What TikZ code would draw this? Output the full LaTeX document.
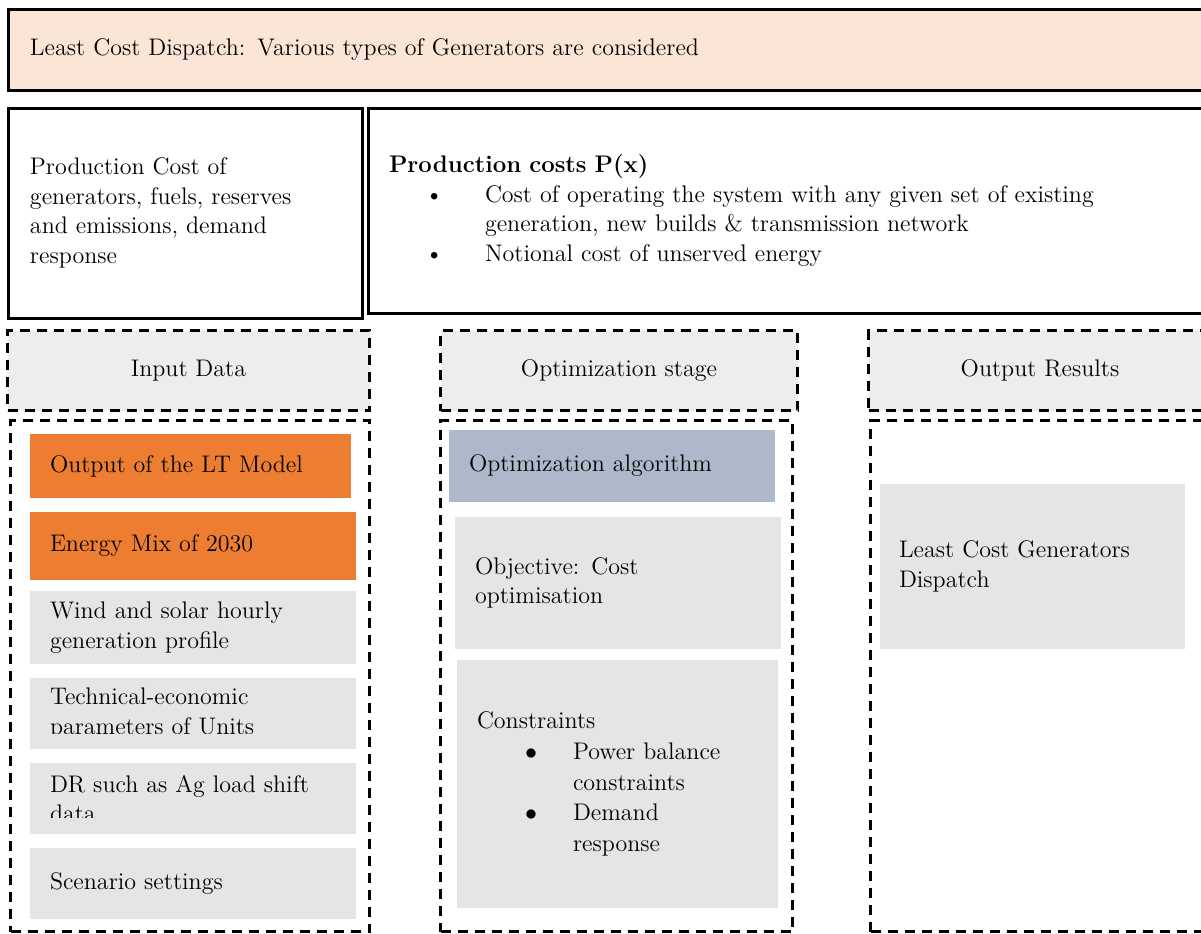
\documentclass[tikz,border=0pt]{standalone}

\definecolor{peach}{HTML}{FBE5D6}
\definecolor{orangecell}{HTML}{ED7D31}
\definecolor{graycell}{HTML}{E5E5E5}
\definecolor{grayhead}{HTML}{EDEDED}
\definecolor{bluecell}{HTML}{ADB9CA}

% bullet list with the label 24pt in and the text 48pt in
\newenvironment{dotlist}[1]{%
  \begin{list}{#1}{%
    \setlength{\leftmargin}{48pt}\setlength{\labelwidth}{24pt}%
    \setlength{\labelsep}{0pt}\setlength{\itemsep}{0pt}%
    \setlength{\topsep}{0pt}\setlength{\parsep}{0pt}%
    \setlength{\partopsep}{0pt}%
    \renewcommand{\makelabel}[1]{##1\hfil}}}%
  {\end{list}}

\tikzset{
  base/.style={anchor=north west, inner ysep=0pt, outer sep=0pt, align=left,
    font=\fontsize{12}{14.75}\selectfont},
  framebox/.style={base, draw, line width=1.5pt},
  headbox/.style={anchor=north west, draw, fill=grayhead, line width=1.5pt,
    dash pattern=on 5pt off 3.5pt, minimum height=40pt, align=center,
    font=\fontsize{12}{14.75}\selectfont},
  stagebox/.style={anchor=north west, draw, line width=1.5pt,
    dash pattern=on 5pt off 3.5pt, minimum height=255.5pt},
  cell/.style={base, inner xsep=10pt, text width=143pt, minimum width=163pt},
}

\begin{document}
\begin{tikzpicture}[x=0.5pt, y=-0.5pt]
\useasboundingbox (0,0) rectangle (1201,933);
\clip (0,0) rectangle (1201,933);

% Top banner
\node[framebox, fill=peach, inner xsep=11pt, text width=583pt,
  minimum width=605pt, minimum height=40.5pt] (banner) at (8,9)
  {Least Cost Dispatch: Various types of Generators are considered};

% Cost boxes
\node[framebox, inner xsep=11pt, text width=155pt,
  minimum width=177pt, minimum height=105pt] (prodinfo) at (8,108)
  {Production Cost of\\ generators, fuels, reserves\\ and emissions, demand\\ response};
\node[framebox, inner xsep=10.5pt, text width=404pt,
  minimum width=425pt, minimum height=102.5pt] (prodcost) at (368,108)
  {\textbf{Production costs P(x)}\par
   \begin{dotlist}{\kern-6pt\textbullet}
   \item Cost of operating the system with any given set of existing\\
     generation, new builds \& transmission network
   \item Notional cost of unserved energy
   \end{dotlist}};

% Stage headers
\node[headbox, minimum width=181pt] (inputhead) at (6,329) {Input Data};
\node[headbox, minimum width=178.5pt] (opthead) at (439,329) {Optimization stage};
\node[headbox, minimum width=171.5pt] (outhead) at (867,329) {Output Results};

% Stage frames
\node[stagebox, minimum width=179.5pt] (inputframe) at (9,419) {};
\node[stagebox, minimum width=176pt] (optframe) at (439,419) {};
\node[stagebox, minimum width=172pt] (outframe) at (869,419) {};

% Input data cells
\node[cell, fill=orangecell, text width=140.5pt, minimum width=160.5pt,
  minimum height=32pt] (ltmodel) at (30,434) {Output of the LT Model};
\node[cell, fill=orangecell, minimum height=34pt] (energymix) at (30,512)
  {Energy Mix of 2030};
\node[cell, fill=graycell, minimum height=36.5pt] (windsolar) at (30,591)
  {Wind and solar hourly\\ generation profile};
\node[cell, fill=graycell, minimum height=35.5pt] (technical) at (30,678)
  {Technical-economic\\ parameters of Units};
\node[cell, fill=graycell, minimum height=35.5pt] (drshift) at (30,763)
  {DR such as Ag load shift\\ data};
\node[cell, fill=graycell, minimum height=35.5pt] (scenario) at (30,848)
  {Scenario settings};

% cut-off text at the foot of two cells
\fill[graycell] ([yshift=7.5pt]technical.south west) rectangle (technical.south east);
\fill[graycell] ([yshift=8pt]drshift.south west) rectangle (drshift.south east);

% Optimization cells
\node[cell, fill=bluecell, minimum height=36pt] (optalgo) at (449,430)
  {Optimization algorithm};
\node[cell, fill=graycell, minimum height=66pt] (objective) at (455,517)
  {Objective: Cost\\ optimisation};
\node[cell, fill=graycell, text width=140.5pt, minimum width=160.5pt,
  minimum height=124pt, font=\fontsize{12}{15.3}\selectfont] (constraints) at (457,660)
  {Constraints\par
   \begin{dotlist}{$\bullet$}
   \item Power balance\\ constraints
   \item Demand\\ response
   \end{dotlist}};

% Output cell
\node[cell, fill=graycell, inner xsep=9.5pt, text width=133.5pt,
  minimum width=152.5pt, minimum height=82.5pt] (dispatch) at (880,484)
  {Least Cost Generators\\ Dispatch};

\end{tikzpicture}
\end{document}
